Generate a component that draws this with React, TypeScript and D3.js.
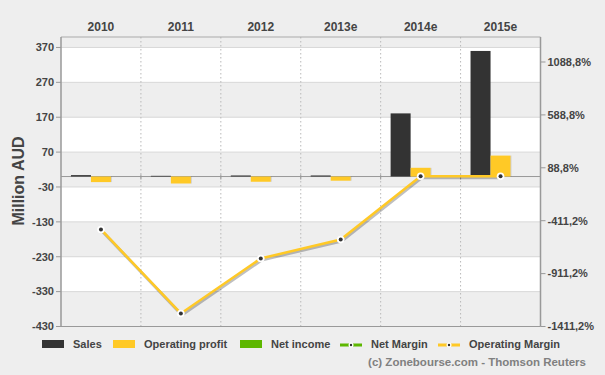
import React from "react";
import * as d3 from "d3";

const categories = ["2010", "2011", "2012", "2013e", "2014e", "2015e"];
const sales = [4, 2, 3, 3, 181, 360];
const operatingProfit = [-16, -20, -15, -12, 25, 60];
const operatingMargin = [-494, -1288, -768, -589, 9, 9];
const leftTicks = [-430, -330, -230, -130, -30, 70, 170, 270, 370];
const rightTicks = [-1411.2, -911.2, -411.2, 88.8, 588.8, 1088.8];
const legendItems = ["Sales", "Operating profit", "Net income", "Net Margin", "Operating Margin"];

const W = 605, H = 375;
const L = 61, R = 540.5, T = 37, B = 326.5;
const FONT = "'Liberation Sans', Arial, sans-serif";
const TXT = "#444";
const YELLOW = "#FFC926";
const GREEN = "#5DB700";
const DARK = "#333333";

export default function App() {
  const x = d3.scaleBand<string>().domain(categories).range([L, R]).padding(0);
  const bw = x.bandwidth();
  const x1 = d3.scaleBand<string>().domain(["s", "o", "n"]).range([bw / 2 - 30, bw / 2 + 30]);
  const y = d3.scaleLinear().domain([-430, 400]).range([B, T]);
  const y2 = d3.scaleLinear().domain([-1411.2, 1325]).range([B, T]);
  const fmt = (v: number) => v.toFixed(1).replace(".", ",") + "%";

  const bands: [number, number, boolean][] = [];
  const edges = [...leftTicks, 400];
  for (let i = 0; i < edges.length - 1; i++) {
    bands.push([edges[i], edges[i + 1], i % 2 === 0]);
  }

  const line = d3
    .line<number>()
    .x((_, i) => (x(categories[i]) as number) + bw / 2)
    .y((d) => y2(d));

  const legendX = [42, 113, 240, 340, 438];

  return (
    <svg width={W} height={H} style={{ position: "absolute", left: 0, top: 0, background: "#EEEEEE" }} fontFamily={FONT}>
      <rect x={0} y={0} width={W} height={H} fill="#EEEEEE" />
      {bands.map(([a, b, gray], i) => (
        <rect key={i} x={L} y={y(b)} width={R - L} height={y(a) - y(b)} fill={gray ? "#EEEEEE" : "#FFFFFF"} />
      ))}
      {leftTicks.map((t) => (
        <line key={t} x1={L} x2={R} y1={y(t)} y2={y(t)} stroke="#D8D8D8" strokeWidth={1} />
      ))}
      {categories.slice(1).map((c) => (
        <line key={c} x1={x(c)} x2={x(c)} y1={T} y2={B} stroke="#B8B8B8" strokeDasharray="1.5,2.5" strokeWidth={1} />
      ))}
      {/* zero line */}
      <line x1={L} x2={R} y1={y(0)} y2={y(0)} stroke="#999" strokeWidth={1} />
      {categories.slice(1).map((c) => (
        <line key={"zt" + c} x1={x(c)} x2={x(c)} y1={y(0) - 2} y2={y(0) + 3} stroke="#999" strokeWidth={1} />
      ))}
      {/* bars */}
      {categories.map((c, i) => {
        const cx = x(c) as number;
        const s = sales[i];
        const o = operatingProfit[i];
        return (
          <g key={"b" + c}>
            <rect x={cx + (x1("s") as number)} y={y(Math.max(0, s))} width={x1.bandwidth()} height={Math.abs(y(s) - y(0))} fill={DARK} />
            <rect x={cx + (x1("o") as number)} y={y(Math.max(0, o))} width={x1.bandwidth()} height={Math.abs(y(o) - y(0))} fill={YELLOW} />
            <rect x={cx + (x1("o") as number) + x1.bandwidth()} y={y(Math.max(0, o))} width={1} height={Math.abs(y(o) - y(0))} fill="#000" opacity={0.12} />
          </g>
        );
      })}
      {/* border */}
      <line x1={L} x2={R} y1={T} y2={T} stroke="#AAA" strokeWidth={1} />
      <line x1={L} x2={R} y1={B} y2={B} stroke="#999" strokeWidth={1} />
      <line x1={L} x2={L} y1={T} y2={B} stroke="#999" strokeWidth={1.5} />
      <line x1={R} x2={R} y1={T} y2={B} stroke="#999" strokeWidth={1.5} />
      {/* margin line */}
      <path d={line(operatingMargin) || ""} fill="none" stroke="#000" strokeOpacity={0.25} strokeWidth={3} transform="translate(1,1.5)" />
      <path d={line(operatingMargin) || ""} fill="none" stroke={YELLOW} strokeWidth={2.5} />
      {operatingMargin.map((v, i) => {
        const cx = (x(categories[i]) as number) + bw / 2;
        return (
          <g key={"p" + i}>
            <circle cx={cx} cy={y2(v)} r={3.8} fill="#fff" />
            <circle cx={cx} cy={y2(v)} r={2} fill={DARK} />
          </g>
        );
      })}
      {/* left axis */}
      {leftTicks.map((t) => (
        <g key={"lt" + t}>
          <line x1={L - 5} x2={L} y1={y(t)} y2={y(t)} stroke="#999" />
          <text x={L - 7} y={y(t)} dy="0.35em" textAnchor="end" fontSize={11} fontWeight="bold" fill={TXT}>{t}</text>
        </g>
      ))}
      {rightTicks.map((t) => (
        <g key={"rt" + t}>
          <line x1={R} x2={R + 5} y1={y2(t)} y2={y2(t)} stroke="#999" />
          <text x={R + 7} y={y2(t)} dy="0.35em" textAnchor="start" fontSize={11} fontWeight="bold" fill={TXT}>{fmt(t)}</text>
        </g>
      ))}
      {categories.map((c) => (
        <text key={"c" + c} x={(x(c) as number) + bw / 2} y={27} dy="0.35em" textAnchor="middle" fontSize={12} fontWeight="bold" fill={TXT}>{c}</text>
      ))}
      <text transform={`translate(18,${181}) rotate(-90)`} textAnchor="middle" dy="0.35em" fontSize={16} fontWeight="bold" fill={TXT}>Million AUD</text>
      {/* legend */}
      {legendItems.map((name, i) => {
        const lx = legendX[i];
        let icon;
        if (i < 3) {
          const col = [DARK, YELLOW, GREEN][i];
          icon = <rect x={lx} y={340} width={22} height={8} fill={col} />;
        } else {
          const col = i === 3 ? GREEN : YELLOW;
          icon = (
            <g>
              <line x1={lx} x2={lx + 22} y1={345} y2={345} stroke={col} strokeWidth={3} />
              <circle cx={lx + 11} cy={345} r={2.5} fill="#fff" />
              <circle cx={lx + 11} cy={345} r={1.2} fill={DARK} />
            </g>
          );
        }
        return (
          <g key={name}>
            {icon}
            <text x={lx + 31} y={344.5} dy="0.35em" fontSize={11} fontWeight="bold" fill={TXT}>{name}</text>
          </g>
        );
      })}
      <text x={586} y={362} dy="0.35em" textAnchor="end" fontSize={11.5} fontWeight="bold" fill="#808080">(c) Zonebourse.com - Thomson Reuters</text>
    </svg>
  );
}
